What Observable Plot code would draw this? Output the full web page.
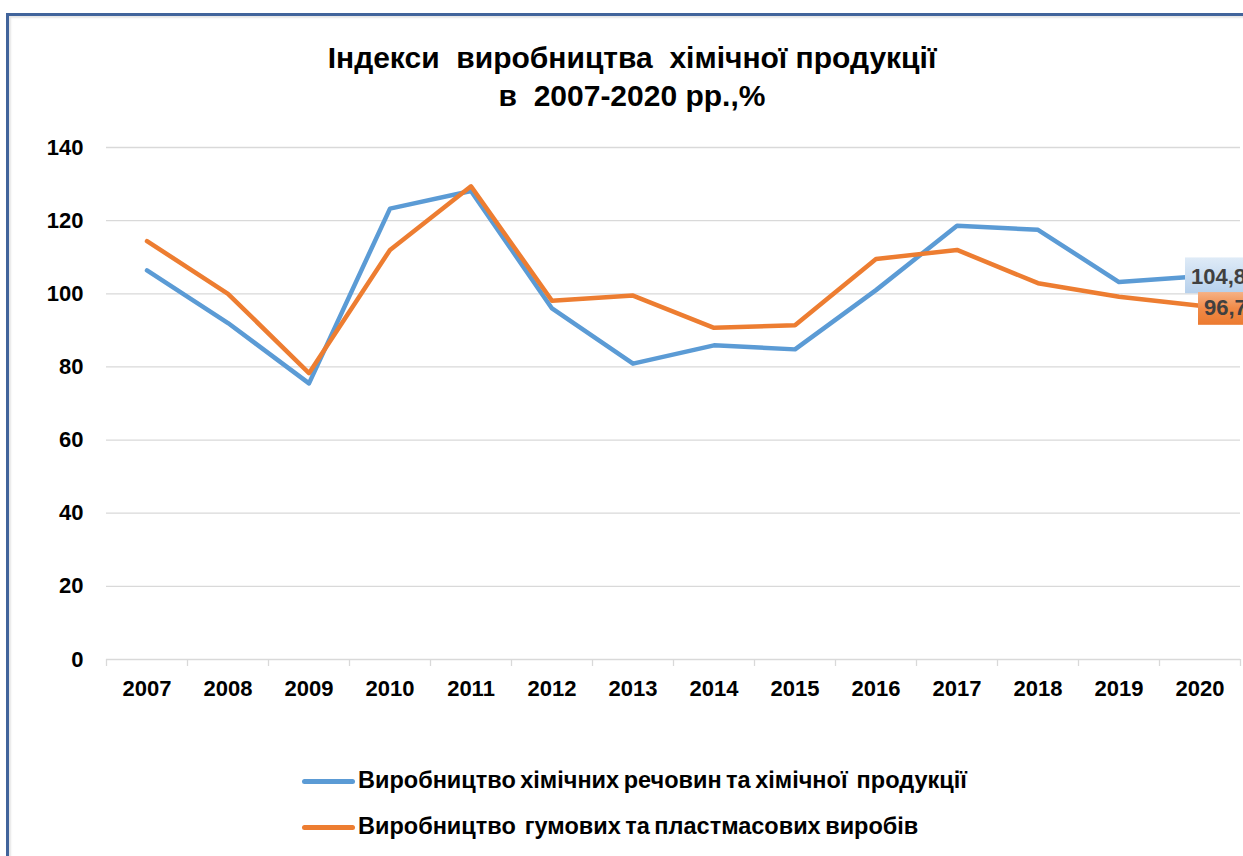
<!DOCTYPE html>
<html><head><meta charset="utf-8">
<script src="https://cdn.jsdelivr.net/npm/d3@7"></script>
<script src="https://cdn.jsdelivr.net/npm/@observablehq/plot@0.6"></script>
<style>
html,body{margin:0;padding:0;background:#fff;overflow:hidden;width:1243px;height:856px;}
#frame{position:absolute;left:6px;top:13px;width:1300px;height:900px;border-top:3px solid #41649b;border-left:3px solid #41649b;box-shadow: inset 2px 2px 2px rgba(0,0,0,0.10);}
#title{position:absolute;left:0;width:1264px;top:38.5px;text-align:center;font:bold 30px/38px "Liberation Sans",Arial,sans-serif;white-space:pre;color:#000;}
#chart{position:absolute;left:0;top:120px;}
#legend{position:absolute;left:302px;top:757px;font:bold 23.5px/46px "Liberation Sans",Arial,sans-serif;white-space:pre;color:#000;word-spacing:-2px;}
.sw{display:inline-block;width:53px;height:5px;border-radius:3px;vertical-align:middle;margin-right:3px;}
</style></head>
<body>
<div id="frame"></div>
<div id="title"></div>
<div id="chart"></div>
<div id="legend"></div>
<script>
const titleLines = ["Індекси  виробництва  хімічної продукції", "в  2007-2020 рр.,%"];
const years = [2007, 2008, 2009, 2010, 2011, 2012, 2013, 2014, 2015, 2016, 2017, 2018, 2019, 2020];
const chem = [106.4, 92.0, 75.5, 123.3, 128.1, 96.0, 80.9, 85.9, 84.8, 101.0, 118.6, 117.5, 103.2, 104.8];
const rubber = [114.4, 100.0, 78.3, 112.0, 129.4, 98.1, 99.5, 90.7, 91.4, 109.5, 112.0, 102.9, 99.2, 96.7];
const seriesNames = ["Виробництво хімічних речовин та хімічної  продукції", "Виробництво  гумових та пластмасових виробів"];
const colors = ["#5b9bd5", "#ed7d31"];
const yTicks = [0, 20, 40, 60, 80, 100, 120, 140];

document.getElementById("title").textContent = titleLines.join("\n");
const leg = document.getElementById("legend");
seriesNames.forEach((n, i) => {
  const row = document.createElement("div");
  const sw = document.createElement("span");
  sw.className = "sw"; sw.style.background = colors[i];
  row.append(sw, document.createTextNode(n));
  leg.append(row);
});

const chemData = years.map((y, i) => ({year: y, value: chem[i]}));
const rubData = years.map((y, i) => ({year: y, value: rubber[i]}));
const bounds = [years[0] - 0.5, ...years.map(y => y + 0.5)];
const fmt = v => v.toFixed(1).replace(".", ",");
const FONT = '"Liberation Sans", Arial, sans-serif';
const LFS = 22;

const plot = Plot.plot({
  width: 1243, height: 600,
  marginTop: 27, marginBottom: 61, marginLeft: 106, marginRight: 3,
  style: {fontFamily: FONT, fontSize: "22px", fontWeight: "bold", color: "#000", background: "transparent", overflow: "hidden"},
  x: {type: "linear", domain: [years[0] - 0.5, years[years.length - 1] + 0.5]},
  y: {domain: [0, 140]},
  marks: [
    Plot.gridY(yTicks, {stroke: "#d9d9d9", strokeOpacity: 1, strokeWidth: 1.3}),
    Plot.axisX(bounds, {tickSize: 7, tickFormat: () => "", stroke: "#d9d9d9", strokeOpacity: 1, strokeWidth: 1.3, label: null}),
    Plot.axisX(years, {tickSize: 0, tickPadding: 21, tickFormat: d => String(d), fill: "#000", fontSize: 22, fontWeight: "bold", label: null}),
    Plot.axisY(yTicks, {tickSize: 0, tickPadding: 23, tickFormat: d => String(d), fill: "#000", fontSize: 22, fontWeight: "bold", label: null}),
    Plot.lineY(chemData, {x: "year", y: "value", stroke: colors[0], strokeWidth: 4.5, strokeLinecap: "round", strokeLinejoin: "round"}),
    Plot.lineY(rubData, {x: "year", y: "value", stroke: colors[1], strokeWidth: 4.5, strokeLinecap: "round", strokeLinejoin: "round"}),
    Plot.text([chemData[chemData.length - 1]], {x: "year", y: "value", text: d => fmt(d.value), textAnchor: "start", dx: -9, dy: 1, fill: "#404040", fontSize: LFS, fontWeight: "bold"}),
    Plot.text([rubData[rubData.length - 1]], {x: "year", y: "value", text: d => fmt(d.value), textAnchor: "start", dx: 4, dy: 2, fill: "#404040", fontSize: LFS, fontWeight: "bold"})
  ]
});
document.getElementById("chart").append(plot);

// label background boxes derived from the rendered label text
const ns = "http://www.w3.org/2000/svg";
const defs = document.createElementNS(ns, "defs");
defs.innerHTML = `
<linearGradient id="gBlue" x1="0" y1="0" x2="0" y2="1"><stop offset="0" stop-color="#dfebf7"/><stop offset="1" stop-color="#b6d0ec"/></linearGradient>
<linearGradient id="gOrange" x1="0" y1="0" x2="0" y2="1"><stop offset="0" stop-color="#f6b185"/><stop offset="0.5" stop-color="#f08a47"/><stop offset="1" stop-color="#ec7a30"/></linearGradient>`;
plot.insertBefore(defs, plot.firstChild);
const fills = ["url(#gBlue)", "url(#gOrange)"];
const topPad = [11, 7];
const botPad = [9, 10];
plot.querySelectorAll('g[aria-label="text"]').forEach((g, i) => {
  g.querySelectorAll("text").forEach(t => {
    const bb = t.getBBox();
    const baseline = bb.y + 0.905 * LFS;
    const capTop = baseline - 0.716 * LFS;
    const r = document.createElementNS(ns, "rect");
    r.setAttribute("x", bb.x - 6);
    r.setAttribute("y", capTop - topPad[i]);
    r.setAttribute("width", bb.width + 14);
    r.setAttribute("height", baseline + botPad[i] - (capTop - topPad[i]));
    r.setAttribute("fill", fills[i]);
    if (t.getAttribute("transform")) r.setAttribute("transform", t.getAttribute("transform"));
    g.insertBefore(r, t);
  });
});
</script>
</body></html>
